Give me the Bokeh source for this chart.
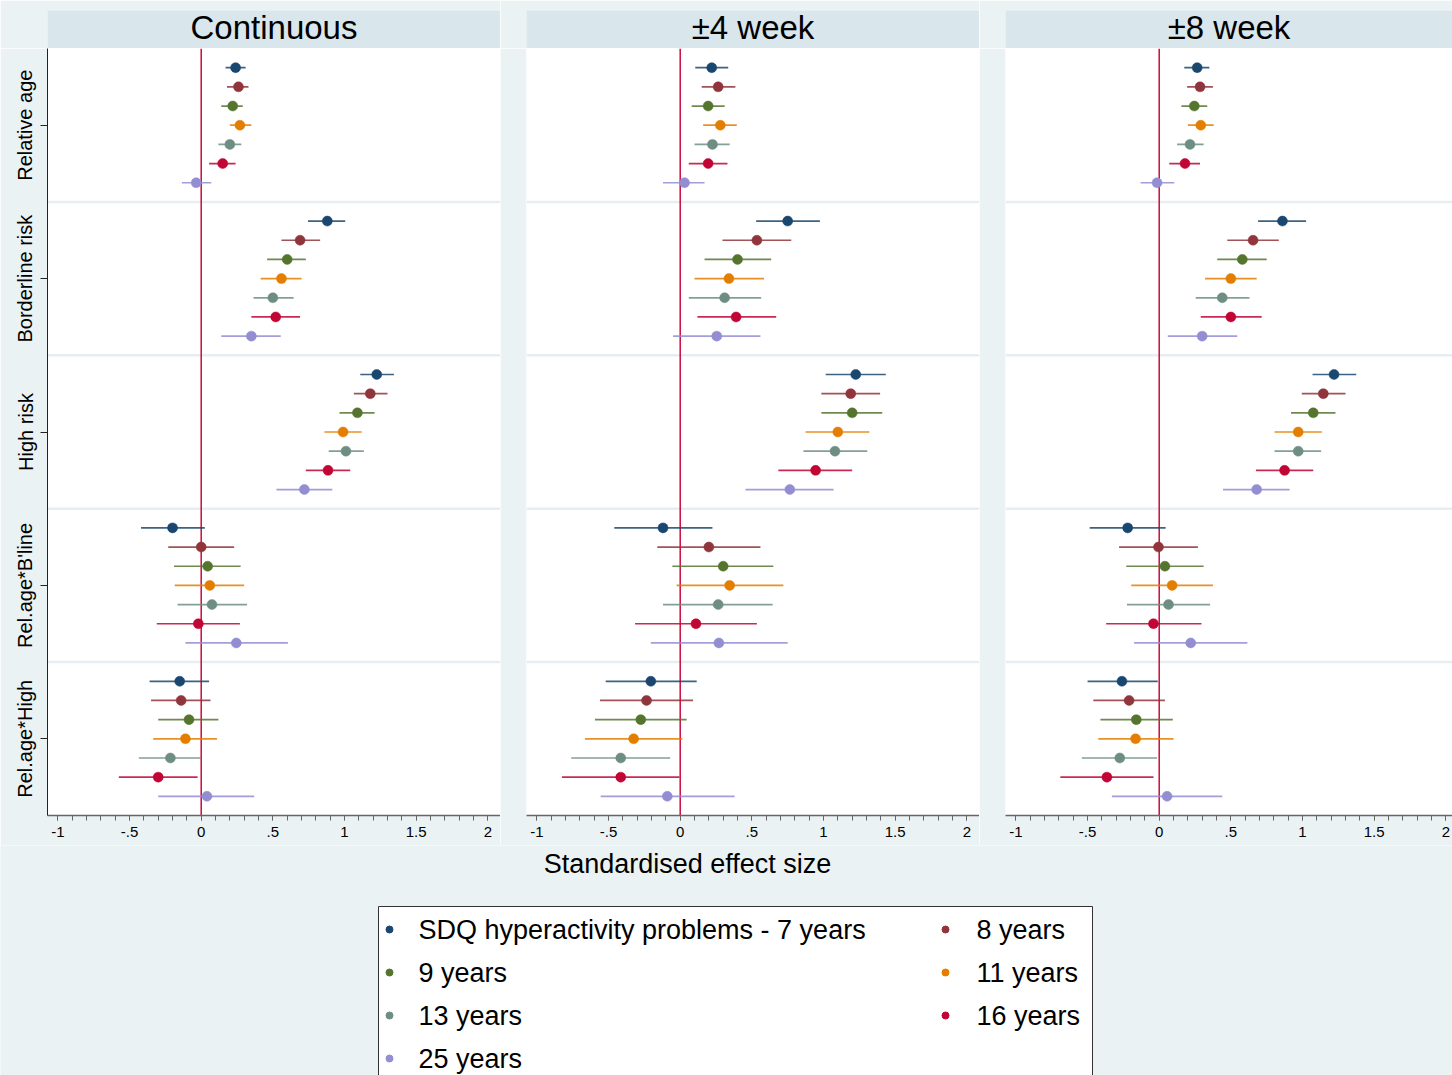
from bokeh.core.properties import value
from bokeh.embed import file_html
from bokeh.layouts import column, row
from bokeh.models import ColumnDataSource, FixedTicker, Range1d, Span
from bokeh.plotting import figure
from bokeh.resources import INLINE

# ---------------------------------------------------------------- data
panels = ["Continuous", "\u00b14 week", "\u00b18 week"]
groups = ["Relative age", "Borderline risk", "High risk", "Rel.age*B'line", "Rel.age*High"]
series = ["SDQ hyperactivity problems - 7 years", "8 years", "9 years",
          "11 years", "13 years", "16 years", "25 years"]
colors = ["#1a476f", "#90353b", "#55752f", "#e37e00", "#6e8e84", "#c10534", "#938dd2"]

xticks = [-1, -0.5, 0, 0.5, 1, 1.5, 2]
xtick_labels = ["-1", "-.5", "0", ".5", "1", "1.5", "2"]

# rows = groups, columns = series (7, 8, 9, 11, 13, 16, 25 years)
cont_est = [[0.24, 0.26, 0.22, 0.27, 0.20, 0.15, -0.035],
            [0.88, 0.69, 0.60, 0.56, 0.50, 0.52, 0.35],
            [1.225, 1.18, 1.09, 0.99, 1.01, 0.885, 0.72],
            [-0.20, 0.0, 0.045, 0.06, 0.075, -0.02, 0.245],
            [-0.15, -0.14, -0.085, -0.11, -0.215, -0.30, 0.04]]
cont_lo = [[0.17, 0.18, 0.14, 0.20, 0.12, 0.055, -0.135],
           [0.745, 0.56, 0.46, 0.415, 0.365, 0.35, 0.14],
           [1.11, 1.065, 0.965, 0.86, 0.89, 0.73, 0.525],
           [-0.42, -0.23, -0.19, -0.185, -0.165, -0.31, -0.11],
           [-0.36, -0.35, -0.30, -0.335, -0.435, -0.575, -0.30]]
cont_hi = [[0.31, 0.33, 0.29, 0.35, 0.28, 0.24, 0.07],
           [1.005, 0.83, 0.73, 0.70, 0.645, 0.69, 0.555],
           [1.345, 1.30, 1.21, 1.12, 1.135, 1.04, 0.915],
           [0.025, 0.23, 0.275, 0.30, 0.32, 0.27, 0.605],
           [0.055, 0.065, 0.12, 0.11, 0.0, -0.025, 0.37]]

wk4_est = [[0.22, 0.265, 0.195, 0.28, 0.225, 0.195, 0.03],
           [0.75, 0.535, 0.40, 0.34, 0.31, 0.39, 0.255],
           [1.225, 1.19, 1.20, 1.10, 1.08, 0.945, 0.765],
           [-0.12, 0.20, 0.30, 0.345, 0.265, 0.11, 0.27],
           [-0.205, -0.235, -0.275, -0.325, -0.415, -0.415, -0.09]]
wk4_lo = [[0.105, 0.15, 0.08, 0.16, 0.10, 0.06, -0.12],
          [0.53, 0.295, 0.17, 0.10, 0.06, 0.12, -0.05],
          [1.015, 0.985, 0.985, 0.875, 0.86, 0.685, 0.455],
          [-0.46, -0.16, -0.055, -0.025, -0.12, -0.315, -0.205],
          [-0.52, -0.56, -0.595, -0.665, -0.76, -0.825, -0.555]]
wk4_hi = [[0.335, 0.385, 0.31, 0.395, 0.345, 0.33, 0.17],
          [0.975, 0.775, 0.635, 0.585, 0.565, 0.67, 0.56],
          [1.435, 1.395, 1.41, 1.32, 1.305, 1.20, 1.07],
          [0.225, 0.56, 0.65, 0.72, 0.645, 0.535, 0.75],
          [0.115, 0.09, 0.045, 0.015, -0.07, -0.005, 0.38]]

wk8_est = [[0.265, 0.285, 0.245, 0.29, 0.215, 0.18, -0.015],
           [0.86, 0.655, 0.58, 0.50, 0.44, 0.50, 0.30],
           [1.22, 1.145, 1.075, 0.97, 0.97, 0.875, 0.68],
           [-0.22, -0.005, 0.04, 0.09, 0.065, -0.04, 0.22],
           [-0.26, -0.21, -0.16, -0.165, -0.275, -0.365, 0.055]]
wk8_lo = [[0.175, 0.195, 0.155, 0.20, 0.125, 0.07, -0.13],
          [0.69, 0.475, 0.405, 0.32, 0.255, 0.29, 0.06],
          [1.07, 0.995, 0.92, 0.805, 0.805, 0.675, 0.445],
          [-0.485, -0.28, -0.23, -0.195, -0.225, -0.37, -0.175],
          [-0.50, -0.46, -0.41, -0.425, -0.54, -0.69, -0.33]]
wk8_hi = [[0.35, 0.375, 0.335, 0.38, 0.31, 0.285, 0.105],
          [1.025, 0.835, 0.75, 0.68, 0.63, 0.715, 0.545],
          [1.375, 1.30, 1.23, 1.135, 1.13, 1.075, 0.91],
          [0.045, 0.27, 0.31, 0.375, 0.355, 0.295, 0.615],
          [-0.01, 0.04, 0.095, 0.10, -0.015, -0.04, 0.44]]

panel_data = [(cont_est, cont_lo, cont_hi),
              (wk4_est, wk4_lo, wk4_hi),
              (wk8_est, wk8_lo, wk8_hi)]

# ---------------------------------------------------------------- style
FONT = "Liberation Sans"
BG = "#eaf2f3"
STRIP = "#d9e6eb"
SEP = "#e6eef1"
REF = "#cc0a3c"
AXIS = "#666666"

SLOTS = len(series) + 1            # rows per group (one blank gap)
N_ROWS = SLOTS * len(groups)
X_MIN = -1.0726
PX_PER_UNIT = 143.3
FRAME_W = [453, 453, 447]
BORDER_L = [47, 26, 26]
FRAME_H = 767


def header(k):
    h = figure(width=BORDER_L[k] + FRAME_W[k], height=48,
               x_range=Range1d(0, 1), y_range=Range1d(0, 1),
               x_axis_location=None, y_axis_location=None,
               min_border_left=BORDER_L[k], min_border_right=0,
               min_border_top=10, min_border_bottom=0,
               background_fill_color=STRIP, border_fill_color=BG,
               outline_line_color=None, toolbar_location=None,
               output_backend="svg")
    h.grid.visible = False
    h.text(x=[0.5], y=[0.56], text=[panels[k]], text_align="center",
           text_baseline="middle", text_font=value(FONT),
           text_font_size="33px", text_color="#000000")
    return h


def panel(k):
    est, lo, hi = panel_data[k]
    xr = Range1d(X_MIN, X_MIN + FRAME_W[k] / PX_PER_UNIT)
    p = figure(width=BORDER_L[k] + FRAME_W[k], height=FRAME_H + 30,
               x_range=xr, y_range=Range1d(N_ROWS, 0),
               y_axis_location="left" if k == 0 else None,
               min_border_left=BORDER_L[k], min_border_right=0,
               min_border_top=0, min_border_bottom=30,
               background_fill_color="#ffffff", border_fill_color=BG,
               outline_line_color=None, toolbar_location=None,
               output_backend="svg")
    p.grid.visible = False

    # group separators and the reference line at zero
    for g in range(1, len(groups)):
        p.add_layout(Span(location=g * SLOTS, dimension="width",
                          line_color=SEP, line_width=2.5, level="underlay"))
    p.add_layout(Span(location=0, dimension="height", line_color=REF,
                      line_width=1.5, level="underlay"))

    ys, e, l, u, c = [], [], [], [], []
    for g in range(len(groups)):
        for s in range(len(series)):
            ys.append(g * SLOTS + s + 1)
            e.append(est[g][s])
            l.append(lo[g][s])
            u.append(hi[g][s])
            c.append(colors[s])
    src = ColumnDataSource(dict(y=ys, est=e, lo=l, hi=u, color=c))
    p.segment(x0="lo", y0="y", x1="hi", y1="y", source=src,
              line_color="color", line_width=1.7, line_alpha=0.85)
    p.scatter(x="est", y="y", source=src, size=10, fill_color="color",
              line_color="color", line_width=0.5)

    # x axis
    xa = p.xaxis[0]
    xa.ticker = FixedTicker(ticks=xticks,
                            minor_ticks=[round(-1 + 0.1 * i, 1) for i in range(31)])
    xa.major_label_overrides = dict(zip(xticks, xtick_labels))
    xa.axis_line_color = AXIS
    xa.axis_line_width = 1.5
    xa.major_tick_line_color = AXIS
    xa.minor_tick_line_color = AXIS
    xa.major_tick_in = 0
    xa.major_tick_out = 5
    xa.minor_tick_in = 0
    xa.minor_tick_out = 5
    xa.major_label_standoff = 6
    xa.major_label_text_font = FONT
    xa.major_label_text_font_size = "15px"
    xa.major_label_text_color = "#000000"

    if k == 0:
        ya = p.yaxis[0]
        ya.ticker = FixedTicker(ticks=[g * SLOTS + SLOTS // 2 for g in range(len(groups))])
        ya.major_label_overrides = {g * SLOTS + SLOTS // 2: name
                                    for g, name in enumerate(groups)}
        ya.major_label_orientation = "vertical"
        ya.axis_line_color = "#222222"
        ya.axis_line_width = 1
        ya.major_tick_line_color = "#222222"
        ya.major_tick_in = 0
        ya.major_tick_out = 7
        ya.minor_tick_out = 0
        ya.minor_tick_in = 0
        ya.major_label_standoff = 4
        ya.major_label_text_font = FONT
        ya.major_label_text_font_size = "20px"
        ya.major_label_text_color = "#000000"
    return p


headers = [header(k) for k in range(3)]
plots = [panel(k) for k in range(3)]

# ---------------------------------------------------------------- axis title and legend
TOTAL_W = sum(BORDER_L) + sum(FRAME_W)
BOTTOM_H = 230
b = figure(width=TOTAL_W, height=BOTTOM_H,
           x_range=Range1d(0, TOTAL_W), y_range=Range1d(BOTTOM_H, 0),
           x_axis_location=None, y_axis_location=None, min_border=0,
           background_fill_color=BG, border_fill_color=BG,
           outline_line_color=None, toolbar_location=None,
           output_backend="svg")
b.grid.visible = False
b.text(x=[687], y=[18], text=["Standardised effect size"], text_align="center",
       text_baseline="middle", text_font=value(FONT), text_font_size="27px",
       text_color="#000000")

b.quad(left=[378], right=[1092], top=[61], bottom=[BOTTOM_H + 10],
       fill_color="#ffffff", line_color="#333333", line_width=1)

mark_x = [389, 945]
text_x = [418, 976]
row_y = [84, 127, 170, 213]
lx, ly, tx, lc = [], [], [], []
for i, name in enumerate(series):
    lx.append(mark_x[i % 2])
    tx.append(text_x[i % 2])
    ly.append(row_y[i // 2])
    lc.append(colors[i])
leg = ColumnDataSource(dict(mx=lx, tx=tx, y=ly, color=lc, label=series))
b.scatter(x="mx", y="y", source=leg, size=7, fill_color="color", line_color="color")
b.text(x="tx", y="y", text="label", source=leg, text_align="left",
       text_baseline="middle", text_font=value(FONT), text_font_size="27px",
       text_color="#000000")

layout = column(row(*headers), row(*plots), b)

open("out.html", "w").write(file_html(layout, INLINE))
